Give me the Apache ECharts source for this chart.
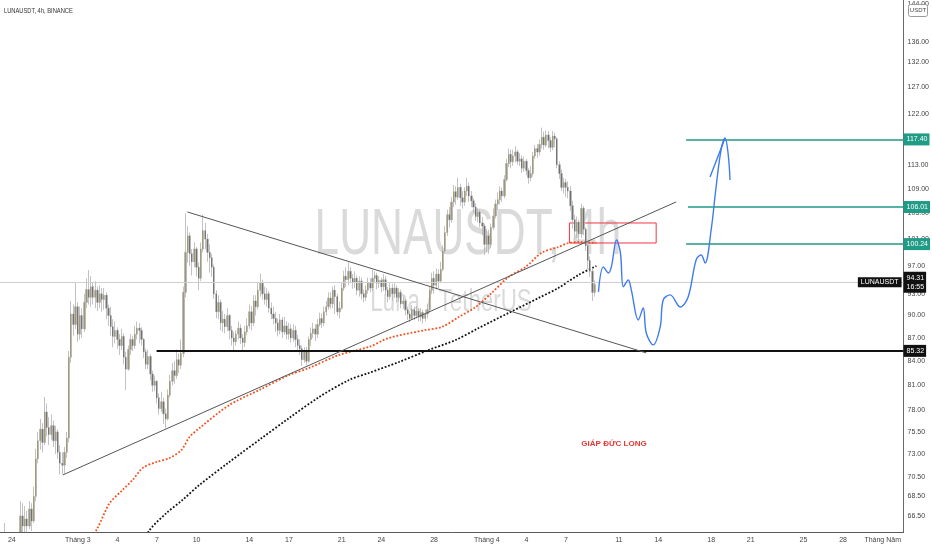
<!DOCTYPE html>
<html><head><meta charset="utf-8">
<script src="https://cdn.jsdelivr.net/npm/echarts@6/dist/echarts.min.js"></script>
<style>html,body{margin:0;padding:0;background:#fff}#c{width:932px;height:550px}</style>
</head><body><div id="c"></div>
<script>
// ---------- DATA ----------
const firstCandle = '2022-02-23 00:00';
const candleHours = 4;
const firstOpen = 62.0;
const closes = [
60.5,58.0,59.5,57.0,56.0,55.0,
50.0,47.0,54.0,60.0,66.5,65.5,
66.2,65.5,67.2,66.0,68.5,72.5,
74.5,75.8,74.3,77.8,76.0,75.2,
76.2,74.5,75.5,73.2,72.0,71.8,
73.2,74.8,84.5,90.2,88.8,91.2,
87.5,90.0,88.2,91.8,93.6,92.5,
94.0,92.5,93.5,91.8,93.0,92.2,
92.8,91.0,90.0,88.5,87.2,88.0,
86.8,86.0,87.2,84.5,83.0,85.5,
86.8,86.0,87.5,88.3,88.0,86.8,
85.2,83.6,84.6,82.4,81.0,81.5,
79.5,78.2,79.0,77.6,77.0,79.8,
81.5,82.8,82.2,84.2,83.5,85.0,
93.2,99.0,101.5,98.8,97.6,99.5,
96.8,95.2,99.5,102.3,101.0,99.0,
98.2,96.8,93.0,90.5,91.8,89.0,
89.5,88.5,90.0,88.0,87.0,86.5,
87.5,88.3,87.0,86.4,87.8,88.6,
90.5,89.0,92.0,91.2,93.5,94.5,
93.0,92.2,93.0,91.0,90.2,89.6,
89.0,88.0,89.4,87.8,88.6,87.5,
88.2,87.0,88.0,86.8,86.0,85.6,
84.2,85.2,84.0,86.8,87.6,88.2,
87.5,88.8,89.6,89.0,90.5,91.2,
92.4,91.6,93.5,92.6,90.5,91.0,
93.8,95.5,95.0,96.2,95.2,94.6,
95.2,93.5,94.8,93.0,92.5,93.5,
94.5,93.8,95.2,95.6,94.5,94.9,
94.0,95.0,93.5,92.6,93.8,93.0,
93.8,92.5,93.2,91.6,92.0,90.8,
90.2,89.6,90.8,90.0,90.6,89.8,
90.4,89.6,90.2,90.8,93.5,95.2,
94.2,95.8,94.8,96.5,99.2,102.0,
104.8,104.0,106.8,108.5,107.6,109.2,
107.5,106.8,108.6,109.4,107.8,107.0,
106.0,104.5,105.2,103.5,103.0,100.2,
101.5,100.2,102.8,104.6,106.5,107.2,
108.6,107.8,110.5,113.2,114.8,113.5,
114.5,115.2,113.6,114.0,112.4,113.6,
112.0,110.8,111.5,114.5,115.8,115.2,
116.5,117.8,116.4,118.2,117.2,116.0,
118.0,117.5,113.0,111.5,109.2,110.0,
109.2,108.6,106.2,104.0,102.2,103.6,
101.8,105.8,102.5,100.0,97.8,96.2,
93.2,94.31
];
const highs = [
62.5,61.5,61.0,65.8,58.5,57.0,
56.0,52.0,56.0,62.0,68.0,67.8,
67.5,67.0,68.0,67.8,69.5,73.6,
75.5,77.0,76.5,79.6,78.8,77.2,
77.5,76.8,76.2,75.8,74.0,73.2,
73.8,75.5,85.3,92.0,91.5,94.6,
91.8,91.2,91.0,93.0,95.2,96.4,
95.5,94.6,94.8,94.0,94.2,93.8,
93.8,93.2,91.5,91.2,89.5,89.2,
88.4,87.5,88.2,87.6,85.2,86.0,
87.5,87.3,88.6,89.2,89.0,88.4,
87.0,85.6,85.5,84.9,82.8,82.2,
81.6,80.0,80.2,79.5,78.2,80.5,
82.3,83.8,84.0,85.5,85.0,86.8,
94.0,105.0,103.0,102.0,99.5,100.5,
99.8,97.5,100.5,104.8,103.5,101.8,
100.2,98.8,97.2,93.5,92.8,92.2,
90.6,90.2,91.0,90.2,88.6,87.8,
88.0,89.2,88.8,87.5,88.6,89.6,
91.5,91.3,92.8,92.8,94.6,95.9,
95.0,94.0,93.8,93.4,91.8,91.2,
90.5,89.6,90.2,89.8,89.8,89.2,
89.0,88.8,88.8,88.6,87.4,86.8,
86.0,85.8,85.8,87.2,88.4,89.0,
88.8,89.5,90.4,90.3,91.2,92.0,
93.2,93.2,94.0,94.2,93.0,91.9,
94.6,96.3,96.8,97.5,96.8,95.8,
96.2,95.6,95.5,95.3,93.6,94.2,
95.3,95.2,96.4,96.2,96.0,95.5,
95.3,95.8,95.5,94.0,94.5,94.4,
94.5,94.2,93.8,93.6,92.6,92.3,
91.2,90.6,91.4,91.2,91.3,91.0,
91.0,90.8,90.8,91.6,94.0,96.0,
96.2,96.6,96.5,97.6,100.0,103.0,
105.6,106.0,107.6,109.6,109.4,110.8,
109.8,108.6,109.2,110.8,110.0,108.6,
107.4,106.6,105.8,105.6,104.4,103.4,
102.6,102.4,103.4,105.8,107.2,108.4,
109.4,109.2,111.2,114.0,115.8,115.6,
115.6,116.2,115.6,115.0,114.6,114.4,
114.0,112.4,112.8,115.2,116.4,116.6,
117.4,119.5,118.8,119.0,118.9,117.8,
118.9,118.6,117.8,113.6,112.2,110.8,
110.6,110.2,109.4,107.0,104.8,104.5,
104.0,106.5,106.2,102.8,100.6,98.4,
96.6,94.9
];
const lows = [
59.0,56.5,57.5,55.5,54.0,53.5,
45.0,43.0,46.0,53.0,59.0,63.8,
64.5,64.4,65.2,65.0,65.8,68.0,
72.0,73.5,73.2,74.0,75.0,74.0,
74.6,73.8,73.0,72.5,70.8,70.8,
70.9,72.6,74.3,83.8,87.3,88.2,
86.5,86.8,87.0,87.8,91.0,91.5,
91.2,91.5,91.0,90.6,91.0,90.5,
90.8,89.5,88.6,87.3,85.8,86.3,
85.6,84.8,85.4,83.6,80.4,82.8,
84.8,85.3,85.6,86.8,86.3,86.0,
84.4,83.0,83.0,81.6,80.2,80.3,
78.8,77.5,77.8,76.4,75.9,76.8,
79.5,81.0,81.2,81.8,82.5,83.0,
84.5,92.5,97.5,97.0,95.6,96.8,
95.5,93.5,94.8,99.0,99.5,97.6,
96.0,95.4,92.3,89.6,89.5,88.0,
87.8,87.6,87.9,86.8,86.0,85.4,
86.0,86.8,86.2,85.4,85.8,87.4,
88.2,88.0,88.6,90.0,90.8,92.6,
92.2,91.5,91.2,90.4,89.5,88.8,
87.8,87.2,87.5,87.0,87.4,86.8,
86.8,86.4,86.5,85.8,85.2,84.8,
83.4,83.8,83.5,83.8,86.0,87.0,
86.6,87.0,88.5,88.3,88.6,90.0,
90.8,90.9,91.0,90.2,90.0,89.6,
90.8,93.4,94.0,94.2,94.5,93.7,
93.8,92.8,92.6,92.2,91.8,92.0,
93.0,93.2,93.4,94.5,93.6,93.8,
93.2,93.4,92.8,91.8,92.2,92.0,
92.4,91.8,91.9,91.0,90.9,90.0,
89.4,89.1,89.4,89.4,89.6,89.2,
89.2,88.9,89.2,89.6,90.4,93.0,
93.0,93.6,93.8,94.5,96.2,98.8,
101.5,102.8,103.5,106.0,106.4,107.2,
106.2,105.8,106.2,107.8,106.8,106.0,
105.0,103.8,103.6,102.8,101.6,98.6,
99.0,98.8,99.6,102.4,104.2,105.6,
106.4,106.8,107.4,110.2,112.6,112.4,
112.8,113.4,113.0,112.8,111.6,111.8,
111.2,109.8,110.2,111.0,114.0,114.2,
114.6,115.8,115.6,116.0,115.8,115.2,
115.5,116.0,112.4,110.6,108.6,108.2,
107.6,107.4,105.4,102.6,101.0,101.2,
100.8,101.2,101.6,99.2,96.5,95.4,
92.0,92.6
];
const maRed = [
['2022-03-01 12:00',63.2],['2022-03-02 12:00',65.31],['2022-03-03 10:00',67.81],['2022-03-04 09:40',69.17],
['2022-03-05 03:50',70.22],['2022-03-05 22:00',71.50],['2022-03-06 23:20',72.15],['2022-03-07 23:00',72.58],
['2022-03-08 20:40',73.47],['2022-03-09 11:10',74.92],['2022-03-10 05:20',75.94],['2022-03-12 11:40',78.63],
['2022-03-14 18:00',80.43],['2022-03-17 00:35',82.27],['2022-03-18 12:50',83.15],['2022-03-20 19:20',84.80],
['2022-03-23 01:40',85.83],['2022-03-24 14:00',87.00],['2022-03-27 09:05',88.06],['2022-03-28 14:05',88.46],
['2022-03-29 20:55',89.80],['2022-03-31 03:45',91.16],['2022-04-01 08:50',93.12],['2022-04-02 15:40',95.39],
['2022-04-03 22:30',96.85],['2022-04-05 03:30',98.91],['2022-04-06 10:20',99.81],['2022-04-07 04:30',100.41],
['2022-04-07 22:40',100.56],['2022-04-09 07:20',100.41]
];
const maBlack = [
['2022-03-05 12:00',63.0],['2022-03-06 10:40',65.11],['2022-03-07 17:25',66.80],['2022-03-08 22:30',68.13],
['2022-03-10 05:20',69.69],['2022-03-12 11:40',72.15],['2022-03-14 18:00',74.59],['2022-03-17 00:35',77.10],
['2022-03-19 07:00',79.58],['2022-03-21 13:25',81.65],['2022-03-23 01:40',82.53],['2022-03-25 08:05',83.90],
['2022-03-27 14:30',85.44],['2022-03-29 15:30',86.74],['2022-03-31 09:10',88.32],['2022-04-02 15:40',90.35],
['2022-04-04 22:05',92.41],['2022-04-06 10:20',93.83],['2022-04-07 22:40',95.68],['2022-04-09 07:20',96.98]
];
const bluePath = [
['2022-04-09 11:00',93.26],['2022-04-09 20:00',96.85],['2022-04-10 05:00',95.97],['2022-04-10 10:30',96.85],
['2022-04-10 20:00',100.87],['2022-04-11 03:00',98.91],['2022-04-11 08:20',93.97],['2022-04-11 17:20',94.96],
['2022-04-11 22:45',93.54],['2022-04-12 11:30',89.40],['2022-04-12 20:30',91.03],['2022-04-13 02:00',87.66],
['2022-04-13 14:40',86.09],['2022-04-14 03:20',88.46],['2022-04-14 08:50',92.14],['2022-04-14 21:30',92.84],
['2022-04-15 15:40',91.16],['2022-04-16 06:10',92.55],['2022-04-16 20:40',97.87],['2022-04-17 05:45',98.61],
['2022-04-17 13:00',97.43],['2022-04-18 00:00',102.40],['2022-04-18 09:00',109.27],['2022-04-18 18:00',115.54],
['2022-04-19 01:20',117.66],['2022-04-19 06:45',115.02],['2022-04-19 10:25',110.43]
];
const blueArm = [['2022-04-17 22:00',110.94],['2022-04-19 01:20',117.66]];
const downTrend = [['2022-03-09 07:30',105.22],['2022-04-13 02:00',85.06]];
const upTrend = [['2022-02-27 20:48',70.75],['2022-04-15 08:25',106.83]];
const targetPrices = [117.40, 106.01, 100.24];
const targetStarts = ['2022-04-16 02:30','2022-04-16 06:00','2022-04-16 02:30'];
const supportPrice = 85.32;
const supportStart = '2022-03-06 23:20';
const lastPrice = 94.31;
const lastTimeText = '16:55';
const zoneTimes = ['2022-04-07 06:15','2022-04-13 20:00'];
const zonePrices = [103.49, 100.41];
const yTicks = [66.5,68.5,70.5,73,75.5,78,81,84,87,90,93,97,101,105,109,113,117,122,127,132,136,144];
const xTickDates = ['2022-02-24','2022-03-01','2022-03-04','2022-03-07','2022-03-10','2022-03-14','2022-03-17','2022-03-21','2022-03-24','2022-03-28','2022-04-01','2022-04-04','2022-04-07','2022-04-11','2022-04-14','2022-04-18','2022-04-21','2022-04-25','2022-04-28','2022-05-01'];
const monthNames = {3:'Tháng 3', 4:'Tháng 4', 5:'Tháng Năm'};
const xRange = ['2022-02-23 02:29','2022-05-02 14:03'];
const yRange = [64.91, 144.9];

// ---------- BUILD ----------
function T(s){const p=s.split(' ');const d=p[0].split('-').map(Number);const h=(p[1]||'00:00').split(':').map(Number);return Date.UTC(d[0],d[1]-1,d[2],h[0],h[1]);}
const L = Math.log;
function fontOK(name){const c=document.createElement('canvas').getContext('2d');c.font='20px monospace';const a=c.measureText('mmmWWWiii1234.').width;c.font='20px "'+name+'", monospace';return c.measureText('mmmWWWiii1234.').width!==a;}
const narrow = fontOK('Liberation Sans Narrow');
const AF = narrow ? 'Liberation Sans Narrow' : 'Liberation Sans';
const AS = narrow ? 8 : 7;

const t0 = T(firstCandle);
const wick = [], body = [];
let prev = firstOpen;
for (let i=0;i<closes.length;i++){
  const t = t0 + i*candleHours*3600e3;
  const o = prev, c = closes[i];
  const h = Math.max(highs[i], o, c), l = Math.min(lows[i], o, c);
  wick.push([t, L(o), L(c), L(l), L(h)]);
  body.push([t, L(o), L(c), L(Math.min(o,c)), L(Math.max(o,c))]);
  prev = c;
}
const pts = a => a.map(p => [T(p[0]), L(p[1])]);
const xMin = T(xRange[0]), xMax = T(xRange[1]);

function levelSeries(price, start, color, width, bg){
  return {type:'line', data:[], silent:true, z:5,
    markLine:{silent:true, symbol:['none','none'], animation:false,
      lineStyle:{color:color, width:width, type:'solid'},
      label:{show:true, position:'end', distance:0, formatter: price.toFixed(2), backgroundColor:bg, color:'#fff',
        fontSize:AS, fontFamily:AF, padding:[2,2,1,3], lineHeight:9},
      data:[[{coord:[T(start), L(price)]},{coord:[xMax, L(price)]}]]}};
}

const series = [
  {type:'line', data:pts(maRed), smooth:0.3, showSymbol:false, silent:true, z:2, clip:true,
    lineStyle:{color:'#f4511e', width:1.8, type:'dotted'}},
  {type:'line', data:pts(maBlack), smooth:0.3, showSymbol:false, silent:true, z:2, clip:true,
    lineStyle:{color:'#111', width:1.8, type:'dotted'}},
  {type:'candlestick', data:wick, encode:{x:0,y:[1,2,3,4]}, barWidth:1.8, silent:true, z:3, clip:true,
    itemStyle:{color:'#b3b3b3', color0:'#b3b3b3', borderColor:'#b3b3b3', borderColor0:'#b3b3b3', borderWidth:0.8},
    markArea:{silent:true, itemStyle:{color:'rgba(0,0,0,0)', borderColor:'#f23645', borderWidth:1},
      data:[[{coord:[T(zoneTimes[0]), L(zonePrices[0])]},{coord:[T(zoneTimes[1]), L(zonePrices[1])]}]]}},
  {type:'candlestick', data:body, encode:{x:0,y:[1,2,3,4]}, barWidth:1.2, silent:true, z:4, clip:true,
    itemStyle:{color:'#8a7c2c', color0:'#2e2e2e', borderColor:'#8a7c2c', borderColor0:'#2e2e2e', borderWidth:0.5}},
  {type:'line', data:pts(downTrend), showSymbol:false, silent:true, z:5, lineStyle:{color:'#555', width:1}},
  {type:'line', data:pts(upTrend), showSymbol:false, silent:true, z:5, lineStyle:{color:'#555', width:1}},
  {type:'line', data:pts(bluePath), smooth:0.35, showSymbol:false, silent:true, z:5, lineStyle:{color:'#3f7bf0', width:1.4}},
  {type:'line', data:pts(blueArm), showSymbol:false, silent:true, z:5, lineStyle:{color:'#3f7bf0', width:1.4}},
  levelSeries(supportPrice, supportStart, '#111', 2, '#111'),
  {type:'line', data:[], silent:true, z:1,
    markLine:{silent:true, symbol:['none','none'], animation:false,
      lineStyle:{color:'#cfcfcf', width:1, type:'solid'},
      label:{show:true, position:'end', distance:0, formatter: lastPrice.toFixed(2)+'\n'+lastTimeText, backgroundColor:'#111', color:'#fff',
        fontSize:AS, fontFamily:AF, padding:[2,2,1,3], lineHeight:9},
      data:[{yAxis:L(lastPrice)}]}},
  {type:'line', data:[], silent:true, z:6,
    markLine:{silent:true, symbol:['none','none'], animation:false,
      lineStyle:{color:'rgba(0,0,0,0)', width:0},
      label:{show:true, position:'insideEnd', distance:2, formatter:'LUNAUSDT', backgroundColor:'#111', color:'#fff',
        fontSize:AS, fontFamily:AF, padding:[2,3,1,3]},
      data:[{yAxis:L(lastPrice)}]}}
];
targetPrices.forEach((p,i)=>series.push(levelSeries(p, targetStarts[i], '#1f9b86', 1.5, '#1f9b86')));

const option = {
  animation:false,
  backgroundColor:'#ffffff',
  grid:{left:0, right:26, top:0, bottom:18, containLabel:false},
  xAxis:{type:'value', min:xMin, max:xMax, z:20,
    axisLine:{show:true, lineStyle:{color:'#5a5a5a', width:1}},
    axisTick:{show:false}, splitLine:{show:false},
    axisLabel:{customValues: xTickDates.map(d=>T(d)), margin:5, fontSize:AS, fontFamily:AF, color:'#444',
      formatter:v=>{const d=new Date(v);const day=d.getUTCDate();return day===1?monthNames[d.getUTCMonth()+1]:String(day);}}},
  yAxis:{type:'value', position:'right', min:L(yRange[0]), max:L(yRange[1]),
    axisLine:{show:true, lineStyle:{color:'#6a6a6a', width:1}},
    axisTick:{show:false}, splitLine:{show:false},
    axisLabel:{customValues: yTicks.map(L), margin:4, fontSize:AS, fontFamily:AF, color:'#444',
      formatter:v=>Math.exp(v).toFixed(2)}},
  graphic:[
    {type:'text', x:468, y:236, scaleX:0.69, z:-10, silent:true,
      style:{text:'LUNAUSDT, 4h', font:'64px "Liberation Sans"', fill:'#dadada', align:'center', verticalAlign:'middle'}},
    {type:'text', x:451, y:302, scaleX:0.72, z:-10, silent:true,
      style:{text:'Luna / TetherUS', font:'31px "Liberation Sans"', fill:'#dadada', align:'center', verticalAlign:'middle'}},
    {type:'text', x:4, y:11, scaleX:0.72, silent:true,
      style:{text:'LUNAUSDT, 4h, BINANCE', font:'8px "Liberation Sans"', fill:'#333', align:'left', verticalAlign:'middle'}},
    {type:'text', x:614, y:444, silent:true,
      style:{text:'GIÁP ĐỨC LONG', font:'bold 8px "Liberation Sans"', fill:'#e53935', align:'center', verticalAlign:'middle'}},
    // mask for candle parts falling below the plot area
    {type:'rect', shape:{x:0, y:532.5, width:905, height:18}, z:15, silent:true, style:{fill:'#ffffff'}},
    {type:'rect', shape:{x:908.5, y:4.5, width:19, height:12, r:2}, z:50, silent:true,
      style:{fill:'#fff', stroke:'#9a9a9a', lineWidth:1}},
    {type:'text', x:918, y:10.5, z:51, silent:true,
      style:{text:'USDT', font:'6px "Liberation Sans"', fill:'#444', align:'center', verticalAlign:'middle'}}
  ],
  series: series
};
const chart = echarts.init(document.getElementById('c'), null, {renderer:'canvas'});
chart.setOption(option);
</script>
</body></html>
